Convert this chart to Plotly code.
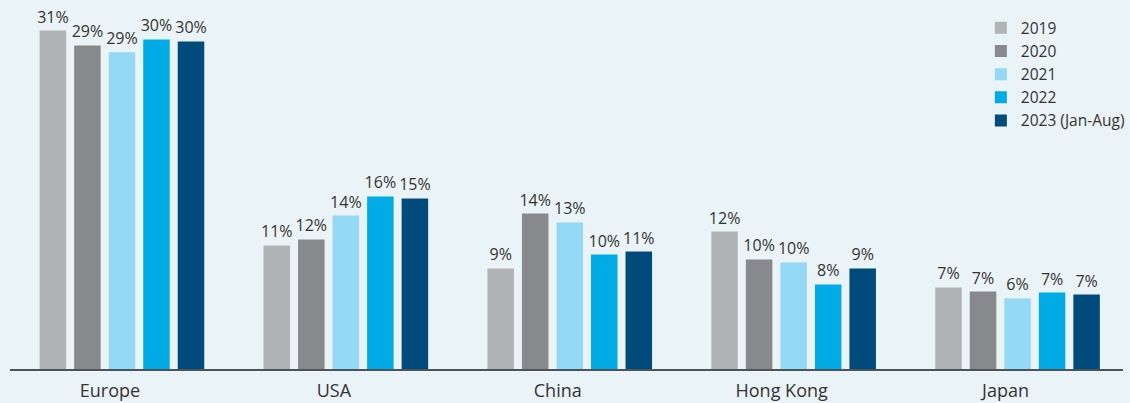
import plotly.graph_objects as go

categories = ["Europe", "USA", "China", "Hong Kong", "Japan"]
years = ["2019", "2020", "2021", "2022", "2023 (Jan-Aug)"]

# share (%) per region
v2019 = [30.63, 11.18, 9.10, 12.44, 7.38]
v2020 = [29.28, 11.72, 14.07, 9.91, 7.01]
v2021 = [28.67, 13.89, 13.26, 9.64, 6.38]
v2022 = [29.82, 15.61, 10.36, 7.65, 6.92]
v2023 = [29.64, 15.43, 10.63, 9.10, 6.74]

series = [v2019, v2020, v2021, v2022, v2023]
colors = ["#B1B4B5", "#87898D", "#93D8F5", "#00ABE6", "#004A7C"]

FONT = "Open Sans"
TXT = "#333333"

fig = go.Figure()
for name, vals, col in zip(years, series, colors):
    fig.add_trace(go.Bar(
        x=categories, y=vals, name=name,
        marker=dict(color=col, line=dict(width=0)),
        texttemplate="%{y:.0f}%", textposition="outside",
        textfont=dict(family=FONT, size=16, color=TXT),
        cliponaxis=False, constraintext="none",
    ))

fig.update_layout(
    width=1130, height=403,
    margin=dict(l=10, r=0, t=0, b=34),
    paper_bgcolor="#EAF3F6", plot_bgcolor="#EAF3F6",
    barmode="group", bargap=0.229, bargroupgap=0.232,
    font=dict(family=FONT, color=TXT),
    showlegend=True,
    legend=dict(
        x=0.8723, xanchor="left", y=0.9695, yanchor="top",
        bgcolor="rgba(0,0,0,0)", borderwidth=0,
        font=dict(family=FONT, size=15.5, color=TXT),
        traceorder="normal",
    ),
    xaxis=dict(
        range=[-0.5, 4.471], showgrid=False, zeroline=False,
        showline=True, linecolor="#4B5459", linewidth=2,
        ticks="", tickfont=dict(family=FONT, size=18, color=TXT),
        ticklabelshift=-12, ticklabelstandoff=4, fixedrange=True,
    ),
    yaxis=dict(
        range=[0, 33.39], visible=False, showgrid=False, zeroline=False,
        fixedrange=True,
    ),
)

fig.write_html(
    "out.html",
    config={"displayModeBar": False},
    post_script="document.body.style.margin='0px';document.body.style.overflow='hidden';",
)
